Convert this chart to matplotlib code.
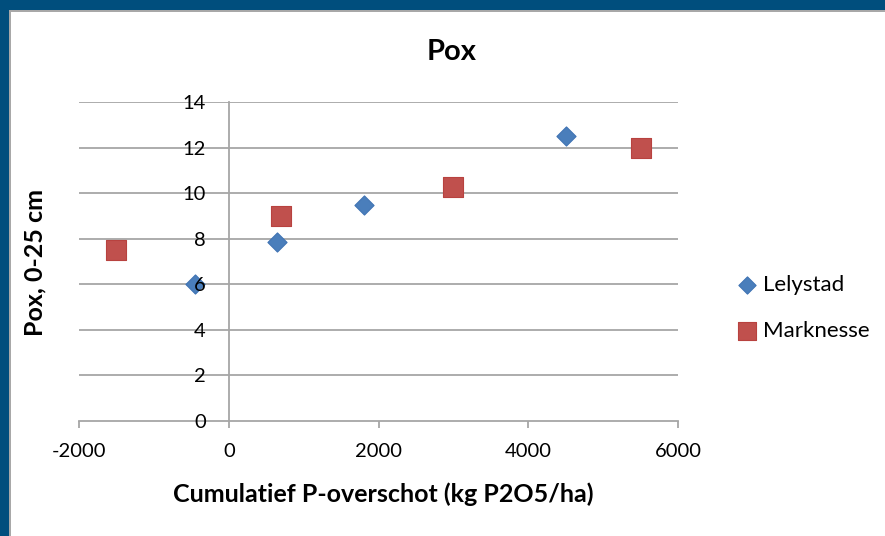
import matplotlib
matplotlib.use("Agg")
import matplotlib.pyplot as plt
from matplotlib.patches import Rectangle

plt.rcParams['font.family'] = ['Lato', 'DejaVu Sans']

lely_x = [-450, 650, 1800, 4500]
lely_y = [6.0, 7.85, 9.5, 12.5]
mark_x = [-1500, 700, 3000, 5500]
mark_y = [7.5, 9.0, 10.25, 12.0]
xticks = [-2000, 0, 2000, 4000, 6000]
yticks = [0, 2, 4, 6, 8, 10, 12, 14]

W, H = 885, 536
fig = plt.figure(figsize=(W / 100, H / 100), dpi=100)
fig.patch.set_facecolor('white')

# dark blue frame (top and left) with grey inner line
fig.patches.append(Rectangle((0, 1 - 10 / H), 1, 10 / H, transform=fig.transFigure,
                             facecolor='#004E7D', edgecolor='none', zorder=0))
fig.patches.append(Rectangle((0, 0), 9 / W, 1, transform=fig.transFigure,
                             facecolor='#004E7D', edgecolor='none', zorder=0))
fig.patches.append(Rectangle((9 / W, 0), 2 / W, 1 - 10 / H, transform=fig.transFigure,
                             facecolor='#A8A8A8', edgecolor='none', zorder=0))
fig.patches.append(Rectangle((9 / W, 1 - 12 / H), 1 - 9 / W, 2 / H, transform=fig.transFigure,
                             facecolor='#A8A8A8', edgecolor='none', zorder=0))

ax = fig.add_axes([79 / W, 1 - 421 / H, (678 - 79) / W, (421 - 102) / H])
ax.set_xlim(-2000, 6000)
ax.set_ylim(0, 14)

grid_c = '#A6A6A6'
for yv in yticks[1:]:
    ax.axhline(yv, color=grid_c, lw=1.3, zorder=1)

for s in ['top', 'right']:
    ax.spines[s].set_visible(False)
ax.spines['left'].set_position(('data', 0))
ax.spines['left'].set_color(grid_c)
ax.spines['left'].set_linewidth(1.3)
ax.spines['bottom'].set_color(grid_c)
ax.spines['bottom'].set_linewidth(1.3)

ax.set_xticks(xticks)
ax.set_xticklabels([str(v) for v in xticks])
ax.set_yticks(yticks)
ax.set_yticklabels([str(v) for v in yticks])
ax.tick_params(axis='x', length=5, width=1.3, color=grid_c, labelsize=14.5, pad=11, direction='out')
ax.tick_params(axis='y', length=0, labelsize=14.5, pad=16.5)
ax.yaxis.set_zorder(4)

ax.scatter(lely_x, lely_y, marker='D', s=95, color='#4A7EBB', edgecolors='#3F73B4',
           linewidths=0.8, zorder=3, label='Lelystad')
ax.scatter(mark_x, mark_y, marker='s', s=190, color='#C0504D', edgecolors='#B8423F',
           linewidths=0.8, zorder=3, label='Marknesse')

fig.text(452 / W, 1 - 52 / H, 'Pox', ha='center', va='center', fontsize=21, fontweight='bold')
fig.text(35 / W, 1 - 262 / H, 'Pox, 0-25 cm', ha='center', va='center', rotation=90,
         fontsize=18, fontweight='bold')
fig.text(383 / W, 1 - 494 / H, 'Cumulatief P-overschot (kg P2O5/ha)', ha='center', va='center',
         fontsize=18, fontweight='bold')

leg = fig.legend(loc='center left', bbox_to_anchor=(714 / W, 1 - 308 / H), frameon=False,
                 fontsize=16, handletextpad=0.1, labelspacing=1.15, handlelength=1.2,
                 markerscale=0.9)

fig.savefig('out.png', dpi=100, facecolor='white')
